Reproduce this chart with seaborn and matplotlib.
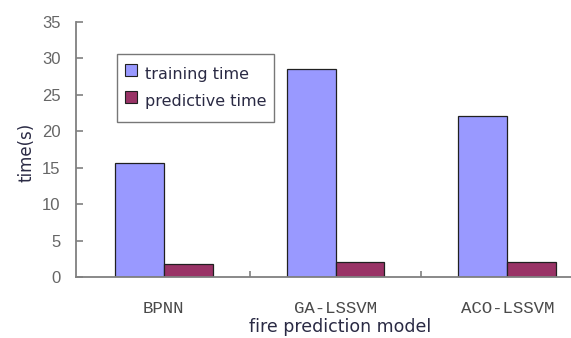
import matplotlib
matplotlib.use("Agg")
import matplotlib.pyplot as plt
import seaborn as sns
import pandas as pd
from matplotlib.lines import Line2D
from matplotlib.ticker import FixedLocator

# Run times of the three fire prediction models
models = ["BPNN", "GA-LSSVM", "ACO-LSSVM"]
training_time = [15.6, 28.6, 22.1]
predictive_time = [1.8, 2.0, 2.0]
series_names = ["training time", "predictive time"]
series_colors = ["#9999FF", "#993366"]
y_ticks = [0, 5, 10, 15, 20, 25, 30, 35]

df = pd.DataFrame({
    "model": models * 2,
    "time": training_time + predictive_time,
    "series": [series_names[0]] * len(models) + [series_names[1]] * len(models),
})

sns.set_style("white")
plt.rcParams["font.family"] = ["DejaVu Sans"]

fig = plt.figure(figsize=(5.71, 3.38), dpi=100)
ax = fig.add_axes([0.133, 0.1805, 0.867, 0.7545])

sns.barplot(
    data=df, x="model", y="time", hue="series", order=models,
    hue_order=series_names, palette=series_colors, saturation=1,
    width=0.57, edgecolor="#202020", linewidth=0.9, ax=ax, legend=False,
)

ax.set_ylim(0, 35)
ax.set_xlim(-0.51, 2.37)
ax.set_yticks(y_ticks)
ax.set_yticklabels([str(v) for v in y_ticks], family="Liberation Sans",
                   fontsize=12, color="#666666")
ax.set_xticks(range(len(models)))
ax.set_xticklabels(models, family="Liberation Mono", fontsize=12.5,
                   color="#4a4a4a")
ax.xaxis.set_minor_locator(FixedLocator([0.5, 1.5]))
ax.tick_params(axis="x", which="major", bottom=False, length=0, pad=17)
ax.tick_params(axis="x", which="minor", bottom=True, direction="in",
               length=4, color="#808080", width=1.2)
ax.tick_params(axis="y", which="major", left=True, direction="in",
               length=5, color="#808080", width=1.2, pad=11)

for side in ["top", "right"]:
    ax.spines[side].set_visible(False)
for side in ["left", "bottom"]:
    ax.spines[side].set_color("#808080")
    ax.spines[side].set_linewidth(1.3)

ax.set_xlabel("fire prediction model", fontsize=12.5, color="#2a2a44",
              labelpad=0)
ax.xaxis.set_label_coords(0.533, -0.16)
ax.set_ylabel("time(s)", fontsize=12, color="#2a2a44")
ax.yaxis.set_label_coords(-0.081, 0.49)

# Square swatches centred in tall legend rows
handles = [
    Line2D([], [], marker="s", linestyle="none", markersize=8,
           markerfacecolor=c, markeredgecolor="#202020", markeredgewidth=0.8)
    for c in series_colors
]
leg = ax.legend(
    handles, series_names,
    loc="upper left", bbox_to_anchor=(0.083, 0.875), borderaxespad=0,
    fontsize=11.5, frameon=True, fancybox=False, handlelength=0.8,
    handleheight=2.2, handletextpad=0.5, labelspacing=0.0,
    borderpad=0.45, labelcolor="#2a2a44",
)
leg.get_frame().set_edgecolor("#555555")
leg.get_frame().set_linewidth(1.0)

fig.savefig("out.png", dpi=100)
